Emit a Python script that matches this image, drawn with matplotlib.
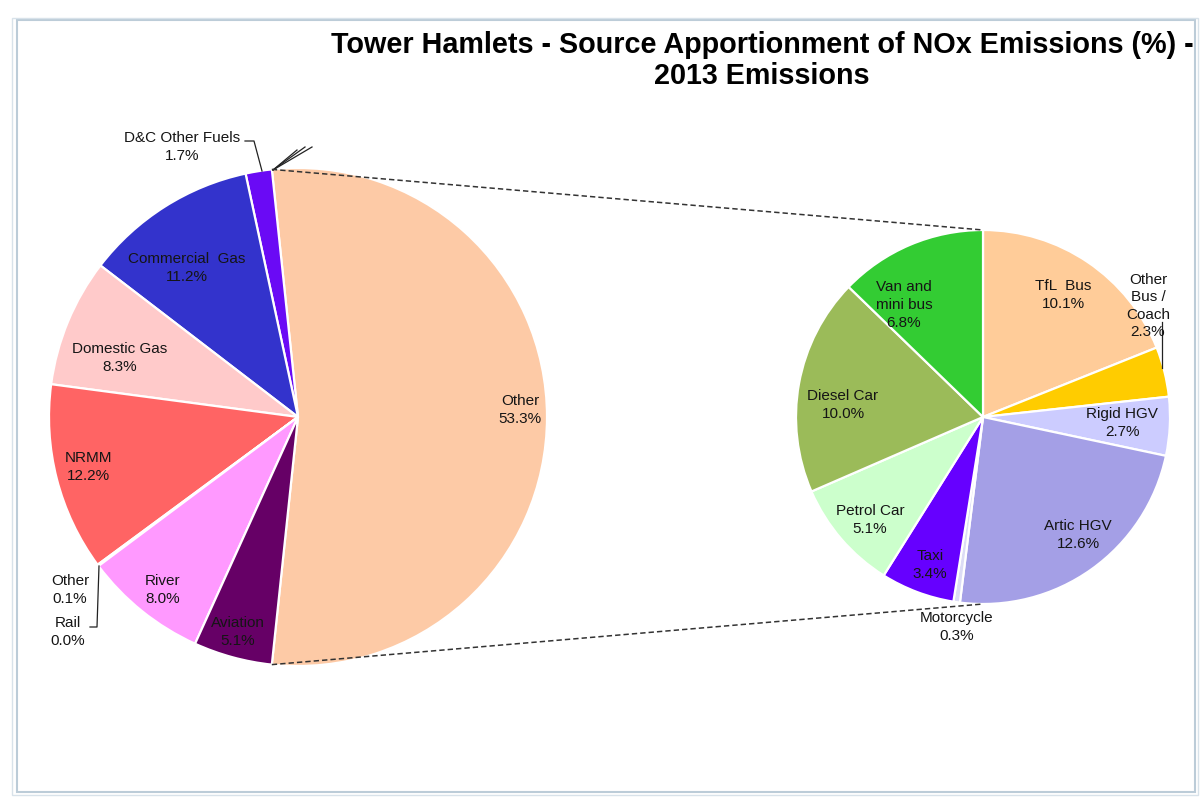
import numpy as np
import matplotlib.pyplot as plt
from matplotlib.patches import Rectangle

plt.rcParams['font.family'] = ['Liberation Sans', 'DejaVu Sans']

# main pie, counterclockwise starting with the aggregated "Other"
main_labels = ['Other', 'D&C Other Fuels', 'Commercial  Gas', 'Domestic Gas', 'NRMM',
               'Other', 'Rail', 'River', 'Aviation']
main_values = [53.3, 1.7, 11.2, 8.3, 12.2, 0.1, 0.0, 8.0, 5.1]
main_colors = ['#FDCAA6', '#6A0AF5', '#3333CC', '#FFCACA', '#FF6464',
               '#FF6464', '#FF99FF', '#FF99FF', '#660066']

# secondary pie, clockwise from top
sub_labels = ['TfL  Bus', 'Other\nBus /\nCoach', 'Rigid HGV', 'Artic HGV', 'Motorcycle',
              'Taxi', 'Petrol Car', 'Diesel Car', 'Van and\nmini bus']
sub_values = [10.1, 2.3, 2.7, 12.6, 0.3, 3.4, 5.1, 10.0, 6.8]
sub_colors = ['#FFCC99', '#FFCC00', '#CCCCFF', '#A49FE6', '#DCDCF5',
              '#6600FF', '#CCFFCC', '#9BBB59', '#33CC33']

W, H = 1201, 797
fig = plt.figure(figsize=(W / 100, H / 100), dpi=100)
ax = fig.add_axes([0, 0, 1, 1])


def P(x, y):
    return (x, H - y)


c1, r1 = P(298, 417), 249
c2, r2 = P(983, 417), 187

total = sum(main_values)
start = -main_values[0] / total * 360 / 2
ax.pie(main_values, colors=main_colors, startangle=start, counterclock=True,
       center=c1, radius=r1, normalize=True,
       wedgeprops=dict(edgecolor='white', linewidth=1.6))
ax.pie(sub_values, colors=sub_colors, startangle=90, counterclock=False,
       center=c2, radius=r2, normalize=True,
       wedgeprops=dict(edgecolor='white', linewidth=1.6))

# label placement (pixel coords of the reference)
main_pos = [(520, 410), (182, 147), (187, 268), (120, 358), (88, 467),
            (70, 590), (68, 632), (163, 590), (238, 632)]
sub_pos = [(1063, 295), (1148, 306), (1122, 423), (1078, 535), (957, 627),
           (930, 565), (870, 520), (843, 405), (904, 305)]

for lab, v, pos in zip(main_labels, main_values, main_pos):
    ax.text(*P(*pos), f'{lab}\n{v:.1f}%', ha='center', va='center',
            fontsize=11, color='#151515', linespacing=1.32)
for lab, v, pos in zip(sub_labels, sub_values, sub_pos):
    ax.text(*P(*pos), f'{lab}\n{v:.1f}%', ha='center', va='center',
            fontsize=11, color='#151515', linespacing=1.32)

# leader lines
lk = dict(color='#222222', lw=0.9)
ax.plot(*zip(P(245, 141), P(254, 141), P(262, 171)), **lk)
ax.plot(*zip(P(90, 627), P(97, 627), P(99, 566)), **lk)
ax.plot(*zip(P(1162, 322), P(1162, 368)), **lk)
tip = P(273, 170)
for ex in [(297, 150), (305, 147), (312, 147)]:
    ax.plot(*zip(tip, P(*ex)), **lk)

# connector lines from "Other" wedge to the secondary pie
half = np.radians(main_values[0] / total * 360 / 2)
for s in (1, -1):
    x0 = c1[0] + r1 * np.cos(half)
    y0 = c1[1] + s * r1 * np.sin(half)
    ax.plot([x0, c2[0]], [y0, c2[1] + s * r2], color='#333333', lw=1.1,
            dashes=(3.5, 2))

ax.text(762, H - 45, 'Tower Hamlets - Source Apportionment of NOx Emissions (%) -',
        ha='center', va='center', fontsize=20.7, fontweight='bold')
ax.text(762, H - 76, '2013 Emissions', ha='center', va='center',
        fontsize=20.7, fontweight='bold')

# window frame
ax.add_patch(Rectangle(P(17, 792), 1178, 772, fill=False, edgecolor='#BCCCD8', lw=1.5))
ax.add_patch(Rectangle(P(12, 795), 1186, 777, fill=False, edgecolor='#D8E2EA', lw=1))

ax.set_xlim(0, W)
ax.set_ylim(0, H)
ax.set_aspect('equal')
ax.axis('off')
fig.savefig('out.png', dpi=100)
